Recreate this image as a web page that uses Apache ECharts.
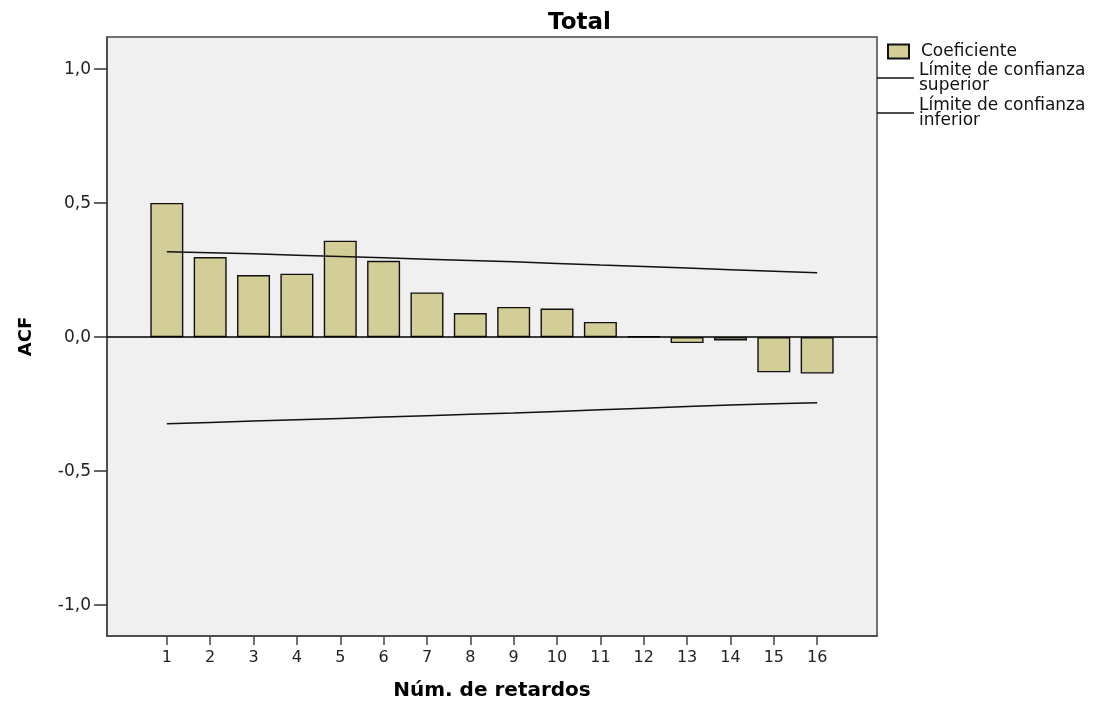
<!DOCTYPE html>
<html>
<head>
<meta charset="utf-8">
<script src="https://cdn.jsdelivr.net/npm/echarts@6/dist/echarts.min.js"></script>
<style>
html,body{margin:0;padding:0;background:#fff;}
#chart{width:1107px;height:706px;}
</style>
</head>
<body>
<div id="chart"></div>
<script>
const lags = [1,2,3,4,5,6,7,8,9,10,11,12,13,14,15,16];
const coef = [0.501,0.299,0.232,0.237,0.360,0.285,0.167,0.090,0.113,0.107,0.057,0.003,-0.022,-0.012,-0.131,-0.136];
const upperLimit = [0.319,0.315,0.311,0.306,0.301,0.296,0.291,0.286,0.281,0.275,0.269,0.264,0.258,0.252,0.246,0.240];
const lowerLimit = [-0.323,-0.318,-0.313,-0.308,-0.303,-0.298,-0.293,-0.288,-0.283,-0.277,-0.271,-0.265,-0.259,-0.253,-0.248,-0.245];
const yTicks = [-1.0,-0.5,0.0,0.5,1.0];
const xTicks = lags;

const FONT = 'DejaVu Sans';
const chart = echarts.init(document.getElementById('chart'), null, {renderer:'canvas'});
const pair = (arr) => lags.map((l,i)=>[l,arr[i]]);

chart.setOption({
  animation:false,
  backgroundColor:'#ffffff',
  title:{
    text:'Total', left:543, top:7,
    textStyle:{fontFamily:FONT, fontSize:23, fontWeight:'bold', color:'#000'}
  },
  grid:{left:107, right:230, top:37, bottom:69.5, show:true, backgroundColor:'#f0f0f0', borderColor:'#444', borderWidth:1.5},
  legend:[
    {
      data:['Coeficiente'], left:887, top:43, orient:'vertical', padding:0,
      itemWidth:21, itemHeight:14, icon:'rect',
      textStyle:{fontFamily:FONT, fontSize:17, color:'#111', padding:[0,0,0,7]}
    },
    {
      data:[{name:'Límite de confianza\nsuperior', icon:'rect'},{name:'Límite de confianza\ninferior', icon:'rect'}],
      left:877, top:62, orient:'vertical', itemGap:3, padding:0,
      itemWidth:37, itemHeight:1.5,
      textStyle:{fontFamily:FONT, fontSize:17, color:'#111', lineHeight:15}
    }
  ],
  xAxis:{
    type:'value', min:-0.38, max:17.38,
    name:'Núm. de retardos', nameLocation:'middle', nameGap:45,
    nameTextStyle:{fontFamily:FONT, fontSize:20, fontWeight:'bold', color:'#000'},
    axisLine:{show:true, onZero:false, lineStyle:{color:'#444', width:1.5}},
    axisTick:{show:true, customValues:xTicks, length:9, lineStyle:{color:'#444', width:1.5}},
    axisLabel:{show:true, customValues:xTicks, margin:14, fontFamily:FONT, fontSize:16, color:'#222'},
    splitLine:{show:false}
  },
  yAxis:{
    type:'value', min:-1.115, max:1.12,
    name:'ACF', nameLocation:'middle', nameGap:72,
    nameTextStyle:{fontFamily:FONT, fontSize:18, fontWeight:'bold', color:'#000'},
    axisLine:{show:true, onZero:false, lineStyle:{color:'#444', width:1.5}},
    axisTick:{show:true, customValues:yTicks, length:13, lineStyle:{color:'#333', width:1.5}},
    axisLabel:{show:true, customValues:yTicks, margin:16, fontFamily:FONT, fontSize:17, color:'#222',
      formatter:(v)=>v.toFixed(1).replace('.',',')},
    splitLine:{show:false}
  },
  series:[
    {
      name:'Coeficiente', type:'bar', data:pair(coef), barWidth:33,
      itemStyle:{color:'#d3ce98', borderColor:'#111', borderWidth:1.4},
      markLine:{silent:true, symbol:'none', label:{show:false},
        lineStyle:{color:'#000', width:1.5, type:'solid'},
        data:[{yAxis:0}]}
    },
    {
      name:'Límite de confianza\nsuperior', type:'line', data:pair(upperLimit),
      symbol:'none', showSymbol:false,
      lineStyle:{color:'#111', width:1.5}, itemStyle:{color:'#111'}
    },
    {
      name:'Límite de confianza\ninferior', type:'line', data:pair(lowerLimit),
      symbol:'none', showSymbol:false,
      lineStyle:{color:'#111', width:1.5}, itemStyle:{color:'#111'}
    }
  ]
});
</script>
</body>
</html>
